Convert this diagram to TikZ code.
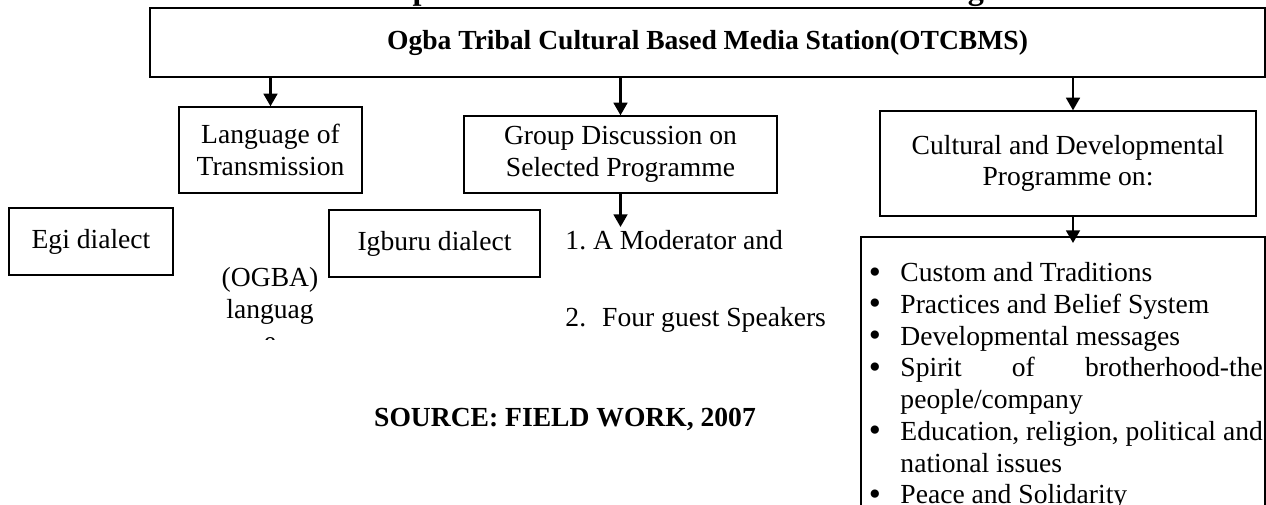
\documentclass[tikz,border=0pt]{standalone}
\usepackage{fontspec}
\setmainfont{Liberation Serif}
\usetikzlibrary{arrows.meta}
\frenchspacing
\newdimen\px
\px=0.435pt
\newcommand{\ogbafont}{\fontsize{12pt}{13.8pt}\selectfont}
\newcommand{\bitem}{\llap{\raisebox{-0.6pt}{\fontsize{15pt}{15pt}\selectfont\textbullet}\hspace{8.5pt}}}

\begin{document}
\begin{tikzpicture}[x=0.435pt, y=-0.435pt, font=\ogbafont,
    box/.style={draw, line width=0.6pt, inner sep=0pt, align=center},
    plain/.style={inner sep=0pt, align=center},
    arr/.style={line width=1pt, -{Triangle[width=6pt,length=5.5pt]}}]
  \useasboundingbox (0,0) rectangle (1266,504);
  \clip (0,0) rectangle (1266,504);
  \node[plain, anchor=base, font=\fontsize{14pt}{16pt}\selectfont\bfseries] (heading) at (710,-1) {Development and Communication Model for Ogba Tribe};
  \node[box, line width=0.9pt, minimum width=1115\px, minimum height=69\px, font=\ogbafont\bfseries] (station) at (707.5,42.5) {Ogba Tribal Cultural Based Media Station(OTCBMS)};
  \node[box, minimum width=183\px, minimum height=86\px] (lang) at (270.5,150) {Language of\\Transmission};
  \node[box, minimum width=313\px, minimum height=77\px] (group) at (620.5,154.5) {Group Discussion on\\Selected Programme};
  \node[box, minimum width=376\px, minimum height=105\px] (cult) at (1068,163.5) {Cultural and Developmental\\Programme on:};
  \node[box, minimum width=164\px, minimum height=67\px] (egi) at (91,241.5) {Egi dialect};
  \node[box, minimum width=211\px, minimum height=67\px] (igburu) at (434.5,243.5) {Igburu dialect};
  \node[box, line width=0.7pt, minimum width=404\px, minimum height=300\px] (topics) at (1063,387) {};
  \node[inner sep=0pt, anchor=north west] (topiclist) at (900,259) {\begin{tabular}{@{}l@{}}
    \bitem Custom and Traditions\\
    \bitem Practices and Belief System\\
    \bitem Developmental messages\\
    \bitem Spirit\hfill of\hfill brotherhood-the\\
    people/company\\
    \bitem Education, religion, political and\\
    national issues\\
    \bitem Peace and Solidarity
  \end{tabular}};
  \begin{scope}
    \clip (150,250) rectangle (340,339);
    \node[plain, anchor=north] (ogba) at (270,267) {(OGBA)\\languag\\e};
  \end{scope}
  \node[plain, anchor=base west] (moderator) at (565,249) {1. A Moderator and};
  \node[plain, anchor=base west] (speakers) at (565,326) {2.\hspace{7pt}Four guest Speakers};
  \node[plain, anchor=base, font=\ogbafont\bfseries] (source) at (565,426) {SOURCE: FIELD WORK, 2007};
  \coordinate (grouptip) at (620.5,227);
  \coordinate (topicstip) at (1073,243);
  \draw[arr] (station.south -| lang.north) -- (lang.north);
  \draw[arr] (station.south -| group.north) -- (group.north);
  \draw[arr] (station.south -| topicstip) -- (cult.north -| topicstip);
  \draw[arr] (group.south) -- (grouptip);
  \draw[arr] (cult.south -| topicstip) -- (topicstip);
\end{tikzpicture}
\end{document}
